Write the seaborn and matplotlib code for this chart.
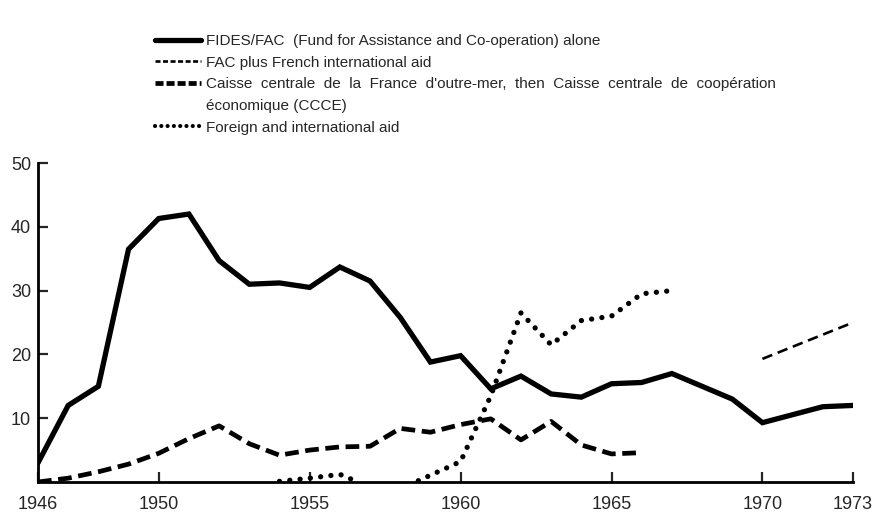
import matplotlib
matplotlib.use('Agg')
import matplotlib.pyplot as plt
from matplotlib.lines import Line2D
import seaborn as sns

# FIDES/FAC alone
fides_years = list(range(1946, 1968)) + [1969, 1970, 1972, 1973]
fides = [3, 12, 15, 36.5, 41.3, 42, 34.7, 31, 31.2, 30.5, 33.7, 31.5, 25.8, 18.8,
         19.8, 14.6, 16.6, 13.8, 13.3, 15.4, 15.6, 17, 13, 9.3, 11.8, 12]

# FAC plus French international aid
fac_years = [1970, 1973]
fac = [19.3, 25]

# CCCE
ccce_years = list(range(1946, 1967))
ccce = [0, 0.6, 1.6, 2.8, 4.5, 6.8, 8.8, 6.0, 4.2, 5.0, 5.5, 5.6, 8.4, 7.8,
        9.0, 9.9, 6.6, 9.5, 5.8, 4.4, 4.6]

# Foreign and international aid (two separate runs)
foreign_years_a = [1954, 1955, 1956, 1956.5]
foreign_a = [0.1, 0.6, 1.2, 0.2]
foreign_years_b = [1958.6, 1960, 1961, 1962, 1963, 1964, 1965, 1966, 1967]
foreign_b = [0.2, 3.2, 13.5, 26.5, 21.5, 25.3, 26, 29.5, 30]

x_ticks = [1946, 1950, 1955, 1960, 1965, 1970, 1973]
y_ticks = [10, 20, 30, 40, 50]

labels = ['FIDES/FAC  (Fund for Assistance and Co-operation) alone',
          'FAC plus French international aid',
          'Caisse  centrale  de  la  France  d\'outre-mer,  then  Caisse  centrale  de  coop\u00e9ration',
          '\u00e9conomique (CCCE)',
          'Foreign and international aid']

sns.set_style('ticks')
plt.rcParams['font.family'] = ['Liberation Sans', 'DejaVu Sans']

fig = plt.figure(figsize=(8.75, 5.12), dpi=100)
ax = fig.add_axes([38 / 875, 1 - 482 / 512, 815 / 875, 319 / 512])

solid_kw = dict(color='black', linewidth=3.8, solid_joinstyle='miter')
thin_kw = dict(color='black', linewidth=1.9, linestyle=(0, (4, 2.2)))
thick_kw = dict(color='black', linewidth=3.4, linestyle=(0, (2.9, 1.4)))
dot_kw = dict(color='black', linewidth=3.8, linestyle=(0, (0.01, 1.95)),
              dash_capstyle='round')

sns.lineplot(x=fides_years, y=fides, ax=ax, **solid_kw)
sns.lineplot(x=fac_years, y=fac, ax=ax, **thin_kw)
sns.lineplot(x=ccce_years, y=ccce, ax=ax, **thick_kw)
sns.lineplot(x=foreign_years_a, y=foreign_a, ax=ax, **dot_kw)
sns.lineplot(x=foreign_years_b, y=foreign_b, ax=ax, **dot_kw)

ax.set_xlim(1946, 1973)
ax.set_ylim(0, 50)
ax.set_xticks(x_ticks)
ax.set_yticks(y_ticks)
ax.set_xticklabels([str(t) for t in x_ticks], fontsize=13)
ax.set_yticklabels([str(t) for t in y_ticks], fontsize=13)
ax.tick_params(axis='x', direction='in', length=7, width=1.6, pad=10)
ax.tick_params(axis='y', direction='in', length=7, width=1.6, pad=5)
for s in ['top', 'right']:
    ax.spines[s].set_visible(False)
for s in ['left', 'bottom']:
    ax.spines[s].set_linewidth(2)
    ax.spines[s].set_color('black')

# legend keys use a finer dash pattern than the plotted lines, as in the original
handles = [Line2D([], [], color='black', linewidth=3.8),
           Line2D([], [], color='black', linewidth=1.9, linestyle=(0, (1.9, 0.95))),
           Line2D([], [], color='black', linewidth=3.4, linestyle=(0, (1.7, 0.64))),
           Line2D([], [], linestyle='none'),
           Line2D([], [], color='black', linewidth=3.0, linestyle=(0, (0.01, 1.5)),
                  dash_capstyle='round')]
fig.legend(handles, labels, loc='upper left', bbox_to_anchor=(155 / 875, 1 - 34 / 512),
           frameon=False, fontsize=11, handlelength=3.0, handletextpad=0.35,
           labelspacing=0.5, borderpad=0, borderaxespad=0)

fig.savefig('out.png', dpi=100)
